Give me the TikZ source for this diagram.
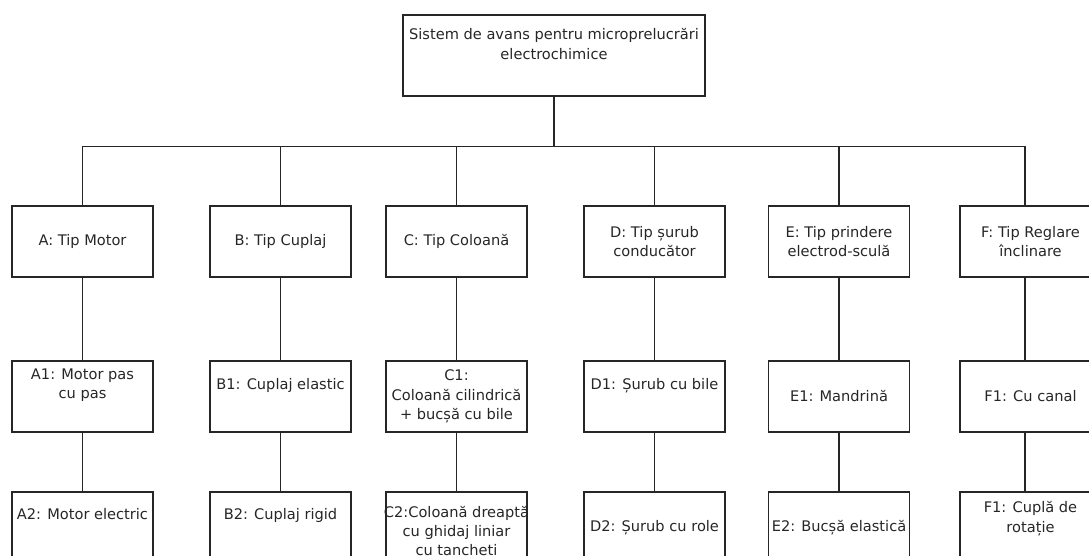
\documentclass[tikz,border=0pt]{standalone}
\usepackage{fontspec}
\setmainfont{DejaVu Sans}
\begin{document}
\begin{tikzpicture}[x=1pt,y=-1pt,
  box/.style={draw=black!85, line width=1.8pt, minimum width=141pt, minimum height=71pt,
    inner sep=0pt, align=center, font=\fontsize{14.6}{19.5}\selectfont, text=black!85},
  conn/.style={draw=black!85, line width=1.8pt}]
\useasboundingbox (0,0) rectangle (1089,556);
\clip (0,0) rectangle (1089,556);
% top
\node[box, minimum width=302pt, minimum height=81pt] (top) at (554,55.5)
  {Sistem de avans pentru microprelucrări\\electrochimice\\[4pt]};
% level 1
\node[box] (A) at (82.5,241.5) {A: Tip Motor};
\node[box] (B) at (280.5,241.5) {B: Tip Cuplaj};
\node[box] (C) at (456.5,241.5) {C: Tip Coloană};
\node[box] (D) at (654.5,241.5) {D: Tip șurub\\conducător};
\node[box] (E) at (839,241.5) {E: Tip prindere\\electrod-sculă};
\node[box] (F) at (1030.5,241.5) {F: Tip Reglare\\înclinare};
% level 2
\node[box] (A1) at (82.5,396.5) {A1: Motor pas\\cu pas\\[6pt]};
\node[box] (B1) at (280.5,396.5) {B1: Cuplaj elastic\\[6pt]};
\node[box] (C1) at (456.5,396.5) {C1:\\Coloană cilindrică\\+ bucșă cu bile};
\node[box] (D1) at (654.5,396.5) {D1: Șurub cu bile\\[6pt]};
\node[box] (E1) at (839,396.5) {E1: Mandrină};
\node[box] (F1) at (1030.5,396.5) {F1: Cu canal};
% level 3
\node[box] (A2) at (82.5,527.5) {A2: Motor electric\\[8pt]};
\node[box] (B2) at (280.5,527.5) {B2: Cuplaj rigid\\[8pt]};
\node[box, label={[align=center, font=\fontsize{14.6}{19}\selectfont, text=black!85, yshift=-5.5pt]center:C2:Coloană dreaptă\\cu ghidaj liniar\\cu tancheți}] (C2) at (456.5,527.5) {};
\node[box] (D2) at (654.5,527.5) {D2: Șurub cu role};
\node[box] (E2) at (839,527.5) {E2: Bucșă elastică};
\node[box] (F2) at (1030.5,527.5) {F1: Cuplă de\\rotație\\[2pt]};
% connectors
\coordinate (bus) at (0,146.5);
\coordinate (fx) at (1025,0);
\draw[conn] (top.south) -- (top.south |- bus);
\draw[conn] (A.north |- bus) -- (fx |- bus);
\foreach \n in {A,B,C,D,E}{
  \draw[conn] (\n.north |- bus) -- (\n.north);
  \draw[conn] (\n.south) -- (\n1.north);
  \draw[conn] (\n1.south) -- (\n2.north);
}
\draw[conn] (fx |- bus) -- (fx |- F.north);
\draw[conn] (fx |- F.south) -- (fx |- F1.north);
\draw[conn] (fx |- F1.south) -- (fx |- F2.north);
\end{tikzpicture}
\end{document}
